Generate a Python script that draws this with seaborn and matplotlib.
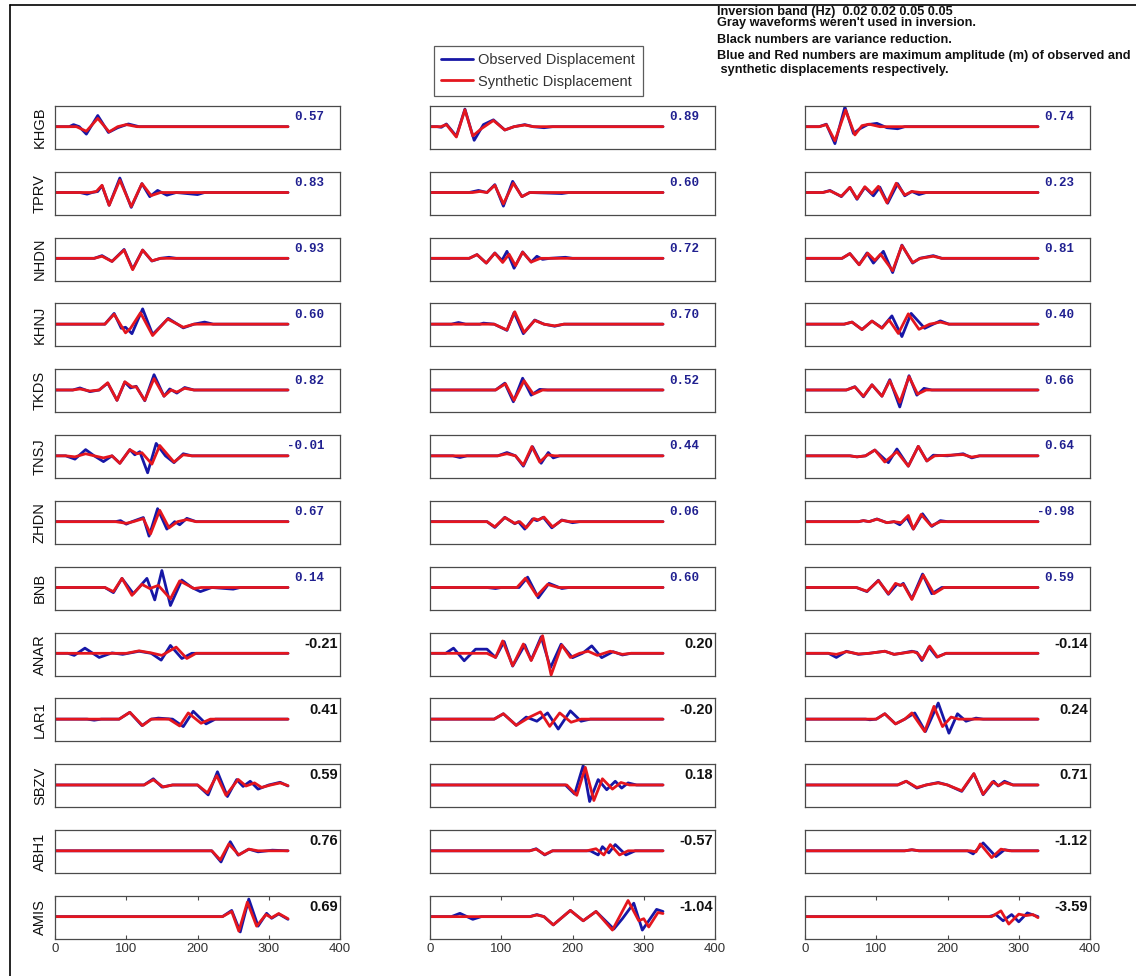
import matplotlib
matplotlib.use("Agg")
import matplotlib.pyplot as plt
import pandas as pd
import seaborn as sns
from matplotlib.lines import Line2D

# ---------------------------------------------------------------------------
# Stations (rows) and the numbers printed in each panel (per column)
# ---------------------------------------------------------------------------
STATIONS = ["KHGB", "TPRV", "NHDN", "KHNJ", "TKDS", "TNSJ", "ZHDN",
            "BNB", "ANAR", "LAR1", "SBZV", "ABH1", "AMIS"]
N_BLUE_ROWS = 8          # first rows carry amplitude numbers (blue)

VALUES_C1 = ["0.57", "0.83", "0.93", "0.60", "0.82", "-0.01", "0.67", "0.14",
             "-0.21", "0.41", "0.59", "0.76", "0.69"]
VALUES_C2 = ["0.89", "0.60", "0.72", "0.70", "0.52", "0.44", "0.06", "0.60",
             "0.20", "-0.20", "0.18", "-0.57", "-1.04"]
VALUES_C3 = ["0.74", "0.23", "0.81", "0.40", "0.66", "0.64", "-0.98", "0.59",
             "-0.14", "0.24", "0.71", "-1.12", "-3.59"]

X_TICKS = [0, 100, 200, 300, 400]

HEADER_LINES = ["Inversion band (Hz)  0.02 0.02 0.05 0.05",
                "Gray waveforms weren't used in inversion.",
                "Black numbers are variance reduction.",
                "Blue and Red numbers are maximum amplitude (m) of observed and",
                " synthetic displacements respectively."]
LEGEND_LABELS = ["Observed Displacement", "Synthetic Displacement"]

# ---------------------------------------------------------------------------
# Normalised displacement traces: (time s, amplitude) turning points
# ---------------------------------------------------------------------------
OBS_C1 = [
    [(0, 0), (20, 0), (26, 0.1), (34, 0), (44, -0.36), (60, 0.54), (75, -0.28), (88, -0.05), (103, 0.13), (118, 0), (327, 0)],
    [(0, 0), (35, 0), (45, -0.08), (52, 0), (60, 0.05), (66, 0.33), (76, -0.62), (91, 0.7), (107, -0.72), (122, 0.43), (133, -0.2), (144, 0.1), (157, -0.13), (170, 0), (200, -0.1), (210, 0), (327, 0)],
    [(0, 0), (55, 0), (66, 0.13), (80, -0.15), (97, 0.43), (109, -0.52), (123, 0.4), (136, -0.13), (148, 0), (160, 0.05), (170, 0), (327, 0)],
    [(0, 0), (70, 0), (83, 0.52), (93, -0.2), (99, -0.15), (108, -0.46), (123, 0.74), (137, -0.5), (159, 0.28), (180, -0.18), (195, 0), (210, 0.1), (222, 0), (327, 0)],
    [(0, 0), (25, 0), (35, 0.1), (49, -0.08), (62, 0), (74, 0.33), (87, -0.5), (98, 0.38), (106, 0.1), (114, 0.18), (126, -0.52), (139, 0.74), (153, -0.3), (161, 0.05), (171, -0.15), (182, 0.12), (195, 0), (327, 0)],
    [(0, 0), (15, 0), (28, -0.16), (43, 0.3), (55, 0), (68, -0.28), (80, 0), (91, -0.36), (105, 0.3), (112, 0.05), (119, 0.2), (130, -0.82), (142, 0.6), (155, 0), (167, -0.33), (180, 0.1), (192, 0), (327, 0)],
    [(0, 0), (85, 0), (92, 0.05), (100, -0.12), (108, 0), (124, 0.2), (132, -0.7), (144, 0.63), (157, -0.36), (168, 0), (175, -0.15), (185, 0.16), (198, 0), (327, 0)],
    [(0, 0), (70, 0), (82, -0.25), (94, 0.44), (110, -0.3), (129, 0.44), (140, -0.6), (150, 0.82), (162, -0.87), (178, 0.36), (192, 0), (204, -0.2), (220, 0), (250, -0.08), (260, 0), (327, 0)],
    [(0, 0), (18, 0), (27, -0.1), (42, 0.25), (62, -0.2), (80, 0.02), (95, -0.05), (118, 0.1), (135, 0), (149, -0.33), (162, 0.38), (178, -0.25), (192, 0), (327, 0)],
    [(0, 0), (45, 0), (55, -0.05), (65, 0), (90, 0), (105, 0.33), (122, -0.31), (135, 0), (145, 0.05), (165, 0), (180, -0.36), (194, 0.38), (212, -0.23), (225, 0), (327, 0)],
    [(0, 0), (125, 0), (138, 0.3), (150, -0.1), (165, 0), (200, 0), (215, -0.48), (228, 0.64), (242, -0.56), (255, 0.26), (264, -0.07), (274, 0.18), (285, -0.2), (300, 0), (316, 0.13), (327, -0.05)],
    [(0, 0), (220, 0), (233, -0.54), (246, 0.44), (257, -0.21), (272, 0.08), (285, -0.05), (305, 0.03), (327, 0)],
    [(0, 0), (235, 0), (248, 0.3), (260, -0.74), (272, 0.85), (285, -0.46), (297, 0.16), (304, -0.08), (314, 0.13), (327, -0.13)],
]
SYN_C1 = [
    [(0, 0), (30, 0), (44, -0.22), (60, 0.4), (76, -0.25), (88, 0), (100, 0.1), (115, 0), (327, 0)],
    [(0, 0), (50, 0), (58, 0.05), (66, 0.35), (76, -0.62), (91, 0.6), (107, -0.68), (122, 0.43), (135, -0.15), (148, 0), (327, 0)],
    [(0, 0), (55, 0), (66, 0.1), (80, -0.15), (97, 0.4), (109, -0.55), (123, 0.4), (136, -0.12), (148, 0), (327, 0)],
    [(0, 0), (70, 0), (83, 0.48), (99, -0.42), (106, -0.2), (120, 0.55), (137, -0.55), (158, 0.25), (180, -0.15), (195, 0), (327, 0)],
    [(0, 0), (25, 0), (35, 0.05), (49, -0.05), (62, 0), (74, 0.35), (87, -0.5), (98, 0.4), (108, 0.15), (114, 0.15), (126, -0.5), (139, 0.55), (153, -0.3), (163, 0), (171, -0.1), (182, 0.08), (195, 0), (327, 0)],
    [(0, 0), (15, 0), (28, -0.05), (43, 0.1), (55, 0), (68, -0.1), (80, 0), (91, -0.36), (105, 0.3), (115, 0.1), (122, 0.15), (136, -0.4), (147, 0.5), (167, -0.3), (180, 0.05), (192, 0), (327, 0)],
    [(0, 0), (85, 0), (100, -0.08), (110, 0), (124, 0.15), (134, -0.6), (147, 0.55), (160, -0.3), (172, 0), (185, 0.1), (198, 0), (327, 0)],
    [(0, 0), (70, 0), (82, -0.2), (94, 0.44), (108, -0.38), (122, 0.15), (133, -0.05), (145, 0.1), (162, -0.55), (175, 0.32), (195, -0.05), (205, 0), (327, 0)],
    [(0, 0), (100, 0), (118, 0.12), (135, 0.02), (150, -0.1), (170, 0.3), (185, -0.25), (198, 0), (327, 0)],
    [(0, 0), (90, 0), (105, 0.33), (123, -0.31), (135, 0), (160, 0), (175, -0.33), (187, 0.3), (205, -0.2), (218, 0), (327, 0)],
    [(0, 0), (125, 0), (138, 0.25), (152, -0.1), (165, 0), (200, 0), (214, -0.38), (227, 0.45), (240, -0.5), (257, 0.27), (268, -0.05), (280, 0.1), (290, -0.12), (303, 0), (316, 0.1), (327, -0.03)],
    [(0, 0), (220, 0), (232, -0.44), (244, 0.33), (258, -0.2), (272, 0.08), (285, 0), (327, 0)],
    [(0, 0), (235, 0), (248, 0.25), (258, -0.7), (270, 0.7), (283, -0.46), (296, 0.1), (304, -0.05), (314, 0.15), (327, -0.1)],
]

OBS_C2 = [
    [(0, 0), (10, 0), (16, -0.03), (23, 0.13), (37, -0.46), (49, 0.85), (62, -0.66), (75, 0.1), (89, 0.33), (105, -0.16), (118, 0), (133, 0.1), (145, 0), (160, -0.05), (172, 0), (327, 0)],
    [(0, 0), (55, 0), (68, 0.1), (80, 0), (91, 0.38), (103, -0.66), (116, 0.54), (129, -0.2), (140, 0), (185, -0.05), (195, 0), (327, 0)],
    [(0, 0), (55, 0), (66, 0.18), (79, -0.23), (91, 0.26), (101, -0.1), (108, 0.34), (118, -0.48), (130, 0.31), (142, -0.18), (150, 0.1), (158, -0.05), (168, 0), (190, 0.05), (200, 0), (327, 0)],
    [(0, 0), (30, 0), (40, 0.08), (50, 0), (70, 0), (75, 0.05), (90, 0), (108, -0.3), (118, 0.56), (131, -0.46), (147, 0.2), (160, 0), (175, -0.1), (188, 0), (327, 0)],
    [(0, 0), (92, 0), (105, 0.33), (117, -0.57), (130, 0.57), (142, -0.25), (154, 0.03), (165, 0), (327, 0)],
    [(0, 0), (32, 0), (42, -0.08), (52, 0), (95, 0), (108, 0.16), (120, 0), (131, -0.5), (144, 0.44), (156, -0.36), (166, 0.16), (173, -0.1), (182, 0), (327, 0)],
    [(0, 0), (80, 0), (91, -0.28), (105, 0.21), (119, -0.1), (124, 0), (133, -0.36), (144, 0.13), (150, 0.05), (159, 0.21), (171, -0.3), (185, 0.08), (200, -0.05), (210, 0), (327, 0)],
    [(0, 0), (80, 0), (92, -0.05), (100, 0), (125, 0), (137, 0.5), (152, -0.5), (167, 0.2), (185, -0.05), (195, 0), (327, 0)],
    [(0, 0), (22, 0), (33, 0.25), (48, -0.36), (64, 0.2), (80, 0.2), (92, -0.2), (104, 0.57), (116, -0.62), (133, 0.41), (142, -0.33), (156, 0.8), (169, -0.7), (184, 0.44), (200, -0.21), (214, 0), (227, 0.36), (241, -0.21), (257, 0.08), (270, -0.08), (282, 0), (327, 0)],
    [(0, 0), (90, 0), (103, 0.26), (121, -0.3), (135, 0.1), (150, -0.1), (165, 0.3), (180, -0.48), (197, 0.4), (212, -0.1), (225, 0), (327, 0)],
    [(0, 0), (190, 0), (203, -0.44), (215, 0.94), (224, -0.8), (236, 0.26), (248, -0.23), (260, 0.18), (269, -0.15), (278, 0.1), (290, 0), (327, 0)],
    [(0, 0), (140, 0), (149, 0.1), (161, -0.2), (172, 0), (225, 0), (236, -0.2), (242, 0.2), (251, -0.1), (260, 0.3), (275, -0.2), (288, 0), (327, 0)],
    [(0, 0), (30, 0), (42, 0.16), (60, -0.13), (72, 0), (140, 0), (150, 0.1), (160, 0), (173, -0.4), (197, 0.3), (215, -0.2), (233, 0.25), (258, -0.6), (270, -0.1), (286, 0.65), (298, -0.65), (318, 0.35), (327, 0.25)],
]
SYN_C2 = [
    [(0, 0), (15, 0), (23, 0.1), (37, -0.5), (49, 0.82), (60, -0.45), (72, -0.1), (89, 0.3), (105, -0.16), (118, 0), (133, 0.08), (145, 0), (327, 0)],
    [(0, 0), (60, 0), (70, 0.05), (80, 0), (91, 0.35), (103, -0.55), (117, 0.45), (129, -0.2), (140, 0), (327, 0)],
    [(0, 0), (55, 0), (66, 0.18), (79, -0.23), (91, 0.25), (102, -0.2), (111, 0.2), (120, -0.35), (130, 0.3), (142, -0.18), (155, 0), (327, 0)],
    [(0, 0), (90, 0), (108, -0.28), (119, 0.6), (132, -0.4), (147, 0.18), (160, 0), (175, -0.08), (188, 0), (327, 0)],
    [(0, 0), (92, 0), (106, 0.3), (118, -0.5), (132, 0.45), (145, -0.2), (158, 0), (327, 0)],
    [(0, 0), (95, 0), (108, 0.1), (120, 0), (131, -0.45), (143, 0.45), (154, -0.3), (165, 0.05), (175, 0), (327, 0)],
    [(0, 0), (80, 0), (91, -0.25), (105, 0.2), (119, -0.08), (126, 0), (135, -0.3), (146, 0.15), (152, 0.08), (160, 0.22), (172, -0.25), (185, 0.06), (197, 0), (327, 0)],
    [(0, 0), (122, 0), (134, 0.45), (150, -0.4), (165, 0.15), (180, 0), (327, 0)],
    [(0, 0), (80, 0), (92, -0.2), (102, 0.6), (116, -0.6), (131, 0.45), (142, -0.35), (158, 0.85), (170, -1.05), (185, 0.4), (197, -0.2), (210, 0), (222, 0.1), (235, -0.1), (253, 0.1), (270, -0.05), (282, 0), (327, 0)],
    [(0, 0), (90, 0), (103, 0.26), (121, -0.3), (140, 0.1), (155, 0.35), (168, -0.35), (182, 0.3), (198, -0.15), (212, 0), (327, 0)],
    [(0, 0), (192, 0), (206, -0.5), (218, 0.85), (230, -0.75), (242, 0.3), (256, -0.2), (268, 0.12), (280, 0), (327, 0)],
    [(0, 0), (140, 0), (149, 0.08), (161, -0.18), (172, 0), (220, 0), (233, 0.1), (244, -0.2), (253, 0.3), (266, -0.2), (278, 0), (327, 0)],
    [(0, 0), (140, 0), (150, 0.08), (160, 0), (173, -0.4), (197, 0.3), (215, -0.2), (233, 0.25), (256, -0.65), (278, 0.78), (293, -0.2), (300, -0.1), (307, -0.5), (320, 0.2), (327, 0.15)],
]

OBS_C3 = [
    [(0, 0), (20, 0), (30, 0.12), (42, -0.82), (56, 0.95), (68, -0.33), (77, -0.1), (88, 0.1), (101, 0.16), (115, -0.05), (130, -0.1), (140, 0), (327, 0)],
    [(0, 0), (25, 0), (35, 0.1), (51, -0.2), (63, 0.25), (73, -0.33), (84, 0.25), (96, -0.16), (105, 0.26), (116, -0.52), (130, 0.43), (140, -0.16), (150, 0.05), (160, -0.1), (170, 0), (327, 0)],
    [(0, 0), (52, 0), (63, 0.23), (76, -0.31), (87, 0.26), (96, -0.23), (110, 0.34), (123, -0.69), (136, 0.64), (151, -0.23), (161, 0), (180, 0.13), (192, 0), (327, 0)],
    [(0, 0), (55, 0), (66, 0.1), (80, -0.26), (94, 0.15), (108, -0.18), (122, 0.4), (136, -0.6), (149, 0.52), (168, -0.2), (180, 0), (190, 0.16), (202, 0), (327, 0)],
    [(0, 0), (58, 0), (70, 0.16), (82, -0.33), (94, 0.25), (108, -0.3), (119, 0.5), (133, -0.82), (146, 0.69), (157, -0.25), (167, 0.08), (178, 0), (327, 0)],
    [(0, 0), (63, 0), (73, -0.05), (85, 0), (98, 0.28), (117, -0.33), (129, 0.33), (145, -0.5), (159, 0.46), (171, -0.25), (180, 0.03), (200, 0), (222, 0.1), (234, -0.1), (245, 0), (327, 0)],
    [(0, 0), (75, 0), (82, 0.05), (90, 0), (101, 0.13), (115, -0.05), (125, 0), (133, -0.15), (143, 0.2), (152, -0.36), (165, 0.38), (178, -0.23), (190, 0.05), (200, 0), (327, 0)],
    [(0, 0), (72, 0), (87, -0.2), (103, 0.35), (117, -0.33), (129, 0.15), (134, 0.1), (138, 0.2), (150, -0.55), (165, 0.65), (178, -0.3), (192, 0), (327, 0)],
    [(0, 0), (33, 0), (44, -0.2), (58, 0.1), (75, -0.05), (90, 0), (112, 0.1), (125, -0.05), (135, 0), (150, 0.1), (157, 0.05), (164, -0.35), (174, 0.3), (185, -0.18), (198, 0), (327, 0)],
    [(0, 0), (85, 0), (91, -0.03), (100, 0), (112, 0.26), (127, -0.23), (140, 0), (154, 0.3), (169, -0.6), (187, 0.78), (202, -0.68), (214, 0.26), (226, -0.1), (240, 0.05), (250, 0), (327, 0)],
    [(0, 0), (130, 0), (142, 0.18), (157, -0.15), (170, 0), (187, 0.12), (200, 0), (220, -0.31), (237, 0.54), (250, -0.47), (265, 0.18), (271, -0.05), (280, 0.18), (292, 0), (327, 0)],
    [(0, 0), (140, 0), (150, 0.05), (160, 0), (228, 0), (236, -0.15), (250, 0.38), (268, -0.28), (280, 0.05), (290, 0), (327, 0)],
    [(0, 0), (258, 0), (268, 0.1), (278, -0.2), (290, 0.1), (300, -0.25), (312, 0.18), (327, 0)],
]
SYN_C3 = [
    [(0, 0), (20, 0), (30, 0.1), (42, -0.68), (57, 0.8), (70, -0.4), (80, 0.05), (90, 0.12), (105, 0), (327, 0)],
    [(0, 0), (25, 0), (35, 0.08), (51, -0.18), (63, 0.25), (73, -0.3), (84, 0.28), (94, -0.05), (103, 0.3), (115, -0.5), (128, 0.45), (140, -0.12), (150, 0.05), (162, 0), (327, 0)],
    [(0, 0), (52, 0), (63, 0.23), (76, -0.31), (88, 0.25), (98, -0.1), (106, 0.2), (123, -0.6), (136, 0.62), (151, -0.2), (162, 0), (180, 0.1), (192, 0), (327, 0)],
    [(0, 0), (55, 0), (66, 0.1), (80, -0.26), (94, 0.15), (108, -0.2), (118, 0.2), (131, -0.45), (145, 0.5), (160, -0.25), (175, 0), (190, 0.1), (202, 0), (327, 0)],
    [(0, 0), (58, 0), (70, 0.15), (82, -0.3), (94, 0.25), (108, -0.3), (119, 0.45), (133, -0.6), (146, 0.65), (158, -0.2), (170, 0), (327, 0)],
    [(0, 0), (63, 0), (73, -0.05), (85, 0), (98, 0.28), (112, -0.3), (129, 0.2), (145, -0.5), (159, 0.46), (171, -0.25), (182, 0), (222, 0.06), (234, -0.06), (245, 0), (327, 0)],
    [(0, 0), (75, 0), (82, 0.05), (90, 0), (101, 0.12), (115, -0.05), (125, 0), (135, -0.05), (145, 0.3), (152, -0.36), (163, 0.35), (177, -0.2), (190, 0), (327, 0)],
    [(0, 0), (72, 0), (87, -0.18), (103, 0.33), (117, -0.3), (127, 0.2), (134, 0.1), (138, 0.15), (150, -0.58), (166, 0.6), (181, -0.3), (195, 0), (327, 0)],
    [(0, 0), (33, 0), (44, -0.05), (58, 0.08), (75, -0.03), (90, 0), (112, 0.1), (125, -0.05), (135, 0), (152, 0.08), (158, 0), (165, -0.3), (175, 0.35), (186, -0.18), (198, 0), (327, 0)],
    [(0, 0), (100, 0), (112, 0.26), (127, -0.23), (140, 0), (150, 0.3), (168, -0.6), (181, 0.62), (193, -0.36), (205, 0.1), (216, 0), (327, 0)],
    [(0, 0), (130, 0), (142, 0.18), (157, -0.12), (170, 0), (187, 0.1), (200, 0), (220, -0.28), (237, 0.55), (250, -0.45), (263, 0.15), (272, -0.03), (280, 0.12), (292, 0), (327, 0)],
    [(0, 0), (140, 0), (150, 0.05), (160, 0), (232, 0), (240, -0.05), (246, 0.33), (262, -0.33), (275, 0.08), (287, 0), (327, 0)],
    [(0, 0), (262, 0), (275, 0.28), (286, -0.36), (300, 0.12), (310, 0.05), (320, 0.1), (327, -0.05)],
]

# ---------------------------------------------------------------------------
# Styling / layout (pixels of a 1136 x 976 canvas)
# ---------------------------------------------------------------------------
W, H = 1136, 976
BLUE = "#1717a6"
RED = "#e4161e"
FRAME = "#4a4a4a"
NUM_BLUE = "#202090"
COL_LEFT = [55, 430, 805]
PANEL_W, PANEL_H = 285, 43
ROW_TOP0, ROW_STEP = 106, 65.83
TRACE_LW = 2.0

sns.set_theme(style="white")
plt.rcParams["font.family"] = ["Liberation Sans", "DejaVu Sans"]
NARROW = ["Liberation Sans Narrow", "Liberation Sans", "DejaVu Sans"]
MONO = ["Liberation Mono", "DejaVu Sans Mono"]

fig = plt.figure(figsize=(W / 100, H / 100), dpi=100)
fig.patch.set_facecolor("white")


def px_axes(left, top, width, height):
    return fig.add_axes([left / W, 1 - (top + height) / H, width / W, height / H])


columns = [(OBS_C1, SYN_C1, VALUES_C1),
           (OBS_C2, SYN_C2, VALUES_C2),
           (OBS_C3, SYN_C3, VALUES_C3)]

for c, (obs_col, syn_col, values) in enumerate(columns):
    for r, station in enumerate(STATIONS):
        ax = px_axes(COL_LEFT[c], ROW_TOP0 + r * ROW_STEP, PANEL_W, PANEL_H)
        obs = pd.DataFrame(obs_col[r], columns=["t", "u"])
        syn = pd.DataFrame(syn_col[r], columns=["t", "u"])
        sns.lineplot(data=obs, x="t", y="u", ax=ax, color=BLUE, lw=TRACE_LW,
                     estimator=None, sort=False, solid_joinstyle="round")
        sns.lineplot(data=syn, x="t", y="u", ax=ax, color=RED, lw=TRACE_LW,
                     estimator=None, sort=False, solid_joinstyle="round")
        ax.set_xlim(0, 400)
        ax.set_ylim(-1.08, 1.0)
        ax.set_xlabel("")
        ax.set_ylabel("")
        ax.set_yticks([])
        for sp in ax.spines.values():
            sp.set_color(FRAME)
            sp.set_linewidth(0.9)
            sp.set_visible(True)

        if r == len(STATIONS) - 1:
            ax.set_xticks(X_TICKS)
            ax.set_xticklabels([str(v) for v in X_TICKS], fontsize=9.5,
                               family=NARROW, color="#333333")
            ax.tick_params(axis="x", direction="in", length=3, width=0.8,
                           color=FRAME, top=True, bottom=True, pad=3)
        else:
            ax.set_xticks([])

        if r < N_BLUE_ROWS:
            ax.text(378, 0.74, values[r], transform=ax.get_xaxis_transform(),
                    ha="right", va="center", fontsize=9, fontweight="bold",
                    family=MONO, color=NUM_BLUE)
        else:
            ax.text(397, 0.74, values[r], transform=ax.get_xaxis_transform(),
                    ha="right", va="center", fontsize=10.5, fontweight="bold",
                    family=NARROW, color="#111111")

        if c == 0:
            ax.set_ylabel(station, fontsize=10.5, color="#111111")
            ax.yaxis.set_label_coords(-8 / PANEL_W, 0.5)

# Legend above the middle column
handles = [Line2D([], [], color=BLUE, lw=TRACE_LW), Line2D([], [], color=RED, lw=TRACE_LW)]
leg = fig.legend(handles, LEGEND_LABELS, loc="upper left",
                 bbox_to_anchor=(434 / W, 1 - 46 / H), borderaxespad=0,
                 frameon=True, fancybox=False, borderpad=0.5,
                 handlelength=2.2, handletextpad=0.35, labelspacing=0.5,
                 prop={"family": NARROW, "size": 10.5})
leg.get_frame().set_edgecolor("#333333")
leg.get_frame().set_linewidth(0.9)
for t in leg.get_texts():
    t.set_color("#333333")

# Header notes (top right)
header_y = [12, 23, 40, 56, 70]
for line, y in zip(HEADER_LINES, header_y):
    fig.text(717 / W, 1 - y / H, line, ha="left", va="center",
             fontsize=9.2, fontweight="bold", family=NARROW, color="#111111")

# Outer frame (top and left edges)
fig.add_artist(Line2D([10 / W, 10 / W], [0, 1 - 5 / H], transform=fig.transFigure,
                      color="black", lw=1.2))
fig.add_artist(Line2D([10 / W, 1], [1 - 5 / H, 1 - 5 / H], transform=fig.transFigure,
                      color="black", lw=1.2))

fig.savefig("out.png", dpi=100, facecolor="white")
